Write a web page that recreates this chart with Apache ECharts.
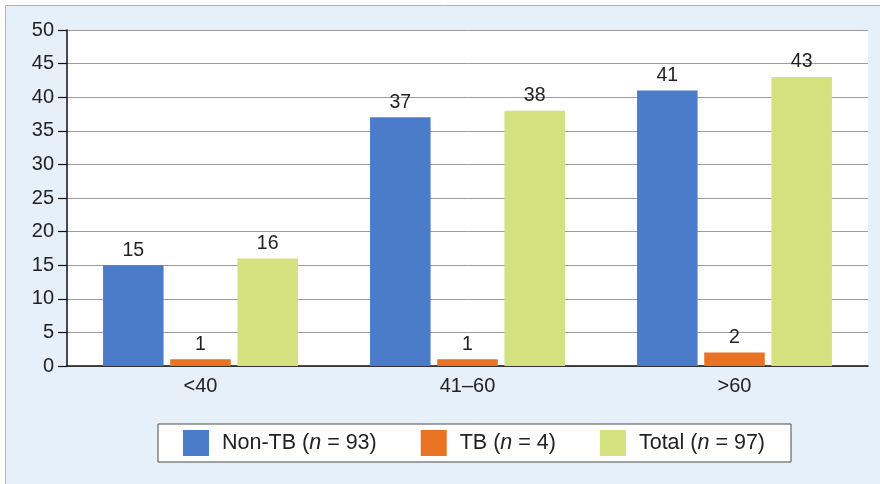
<!DOCTYPE html>
<html>
<head>
<meta charset="utf-8">
<script src="https://cdn.jsdelivr.net/npm/echarts@6/dist/echarts.min.js"></script>
<style>
  html, body { margin: 0; padding: 0; background: #ffffff; }
  #chart { width: 880px; height: 484px; }
</style>
</head>
<body>
<div id="chart"></div>
<script>
// Age groups on the x axis
const categories = ['<40', '41–60', '>60'];

// Patient counts per group
const nonTB = [15, 37, 41];
const tb = [1, 1, 2];
const total = [16, 38, 43];

// Legend names and group sizes
const seriesNames = ['Non-TB', 'TB', 'Total'];
const groupSizes = [93, 4, 97];
const seriesColors = ['#4a7cc9', '#ea7223', '#d3e27f'];

// Y axis range
const yMin = 0, yMax = 50, yStep = 5;

const FONT = '"Liberation Sans", Arial, sans-serif';

const chart = echarts.init(document.getElementById('chart'), null, { renderer: 'canvas' });

const valueSets = [nonTB, tb, total];

const legendLabel = {};
seriesNames.forEach((nm, i) => {
  legendLabel[nm] = nm + ' ({i|n} = ' + groupSizes[i] + ')';
});

chart.setOption({
  backgroundColor: '#ffffff',
  animation: false,
  textStyle: { fontFamily: FONT },
  graphic: [
    {
      type: 'rect',
      z: -10,
      silent: true,
      shape: { x: 5.5, y: 5.5, width: 880, height: 484 },
      style: { fill: '#e5f0f8', stroke: '#a9b6c2', lineWidth: 1 }
    }
  ],
  grid: {
    left: 67, right: 12, top: 30, bottom: 118,
    show: true, backgroundColor: '#ffffff', borderWidth: 0
  },
  legend: {
    left: 158, top: 424,
    itemWidth: 26, itemHeight: 26, itemGap: 44,
    padding: [6, 26, 6, 25],
    backgroundColor: '#ffffff',
    borderColor: '#4a4a4a', borderWidth: 1, borderRadius: 0,
    icon: 'rect',
    data: seriesNames,
    formatter: name => legendLabel[name],
    textStyle: {
      fontFamily: FONT, fontSize: 21.5, color: '#222222',
      padding: [0, 0, 0, 8],
      rich: { i: { fontFamily: FONT, fontSize: 21.5, fontStyle: 'italic', color: '#222222' } }
    }
  },
  xAxis: {
    type: 'category',
    data: categories,
    axisLine: { show: true, lineStyle: { color: '#111111', width: 1.5 } },
    axisTick: { show: false },
    axisLabel: { fontFamily: FONT, fontSize: 20, color: '#222222', margin: 10 },
    splitLine: { show: false }
  },
  yAxis: {
    type: 'value',
    min: yMin, max: yMax, interval: yStep,
    axisLine: { show: true, lineStyle: { color: '#111111', width: 1.5 } },
    axisTick: { show: true, length: 9, lineStyle: { color: '#111111', width: 1.2 } },
    axisLabel: { fontFamily: FONT, fontSize: 20, color: '#222222', margin: 13 },
    splitLine: { show: true, lineStyle: { color: '#9c9c9c', width: 1 } }
  },
  series: valueSets.map((vals, i) => ({
    name: seriesNames[i],
    type: 'bar',
    data: vals,
    barCategoryGap: '27%',
    barGap: '11%',
    itemStyle: { color: seriesColors[i] },
    label: {
      show: true, position: 'top', distance: 5,
      fontFamily: FONT, fontSize: 19.5, color: '#222222'
    }
  }))
});
</script>
</body>
</html>
